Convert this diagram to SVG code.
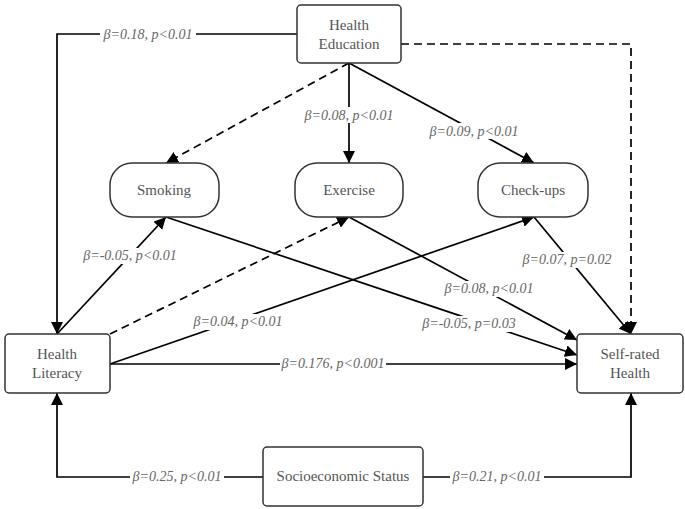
<svg xmlns="http://www.w3.org/2000/svg" width="685" height="509" viewBox="0 0 685 509">
<style>
.n{fill:#fff;stroke:#333;stroke-width:1.5}
.t{font-family:'Liberation Serif','DejaVu Serif','Noto Serif',serif;font-size:15px;fill:#555;text-anchor:middle}
.c{fill:none;stroke:#000;stroke-width:1.7}
.d{stroke-dasharray:8,5}
.l{font-family:'Liberation Serif','DejaVu Serif','Noto Serif',serif;font-size:14px;font-style:italic;fill:#666;text-anchor:middle}
.bg{fill:#fff}
</style>
<defs><marker id="b" viewBox="0 0 10 10" refX="10" refY="5" markerWidth="12" markerHeight="12" markerUnits="userSpaceOnUse" orient="auto"><path d="M0,0L10,5L0,10z" fill="#000"/></marker></defs>
<g id="connectors">
<path class="c" d="M297,34H57V334" marker-end="url(#b)"/>
<path class="c d" d="M401,44H631V334" marker-end="url(#b)"/>
<path class="c d" d="M349,63L166,163" marker-end="url(#b)"/>
<path class="c" d="M349,63V163" marker-end="url(#b)"/>
<path class="c" d="M349,63L534,163" marker-end="url(#b)"/>
<path class="c" d="M166,217L577,355" marker-end="url(#b)"/>
<path class="c" d="M349,217L577,340" marker-end="url(#b)"/>
<path class="c" d="M534,217L631,334" marker-end="url(#b)"/>
<path class="c" d="M57,334L166,217" marker-end="url(#b)"/>
<path class="c d" d="M110,334L349,217" marker-end="url(#b)"/>
<path class="c" d="M110,364L534,217" marker-end="url(#b)"/>
<path class="c" d="M110,364H577" marker-end="url(#b)"/>
<path class="c" d="M263,477H57V393" marker-end="url(#b)"/>
<path class="c" d="M423,477H631V393" marker-end="url(#b)"/>
<rect class="bg" x="100" y="26" width="96" height="16"/><text class="l" x="148" y="39">β=0.18, p&lt;0.01</text>
<rect class="bg" x="300" y="107" width="98" height="16"/><text class="l" x="349" y="120">β=0.08, p&lt;0.01</text>
<rect class="bg" x="425" y="123" width="98" height="16"/><text class="l" x="474" y="136">β=0.09, p&lt;0.01</text>
<rect class="bg" x="80" y="248" width="100" height="16"/><text class="l" x="130" y="260">β=-0.05, p&lt;0.01</text>
<rect class="bg" x="519" y="252" width="96" height="16"/><text class="l" x="567" y="264">β=0.07, p=0.02</text>
<rect class="bg" x="440" y="281" width="98" height="16"/><text class="l" x="489" y="293">β=0.08, p&lt;0.01</text>
<rect class="bg" x="190" y="314" width="96" height="16"/><text class="l" x="238" y="326">β=0.04, p&lt;0.01</text>
<rect class="bg" x="418" y="316" width="102" height="16"/><text class="l" x="469" y="328">β=-0.05, p=0.03</text>
<rect class="bg" x="280" y="356" width="106" height="16"/><text class="l" x="333" y="368">β=0.176, p&lt;0.001</text>
<rect class="bg" x="130" y="469" width="94" height="16"/><text class="l" x="177" y="481">β=0.25, p&lt;0.01</text>
<rect class="bg" x="450" y="469" width="94" height="16"/><text class="l" x="497" y="481">β=0.21, p&lt;0.01</text>
</g>
<g id="health-education"><rect class="n" x="297" y="5" width="104" height="58" rx="4"/><text class="t" x="349" y="30">Health</text><text class="t" x="349" y="49">Education</text></g>
<g id="smoking"><rect class="n" x="110" y="163" width="109" height="54" rx="22"/><text class="t" x="164" y="195">Smoking</text></g>
<g id="exercise"><rect class="n" x="295" y="163" width="108" height="54" rx="22"/><text class="t" x="349" y="195">Exercise</text></g>
<g id="checkups"><rect class="n" x="478" y="163" width="110" height="54" rx="22"/><text class="t" x="533" y="195">Check-ups</text></g>
<g id="health-literacy"><rect class="n" x="5" y="334" width="105" height="59" rx="4"/><text class="t" x="57" y="359">Health</text><text class="t" x="57" y="378">Literacy</text></g>
<g id="self-rated-health"><rect class="n" x="577" y="334" width="106" height="59" rx="4"/><text class="t" x="630" y="359">Self-rated</text><text class="t" x="630" y="378">Health</text></g>
<g id="ses"><rect class="n" x="263" y="447" width="160" height="59" rx="4"/><text class="t" x="343" y="481">Socioeconomic Status</text></g>
</svg>
